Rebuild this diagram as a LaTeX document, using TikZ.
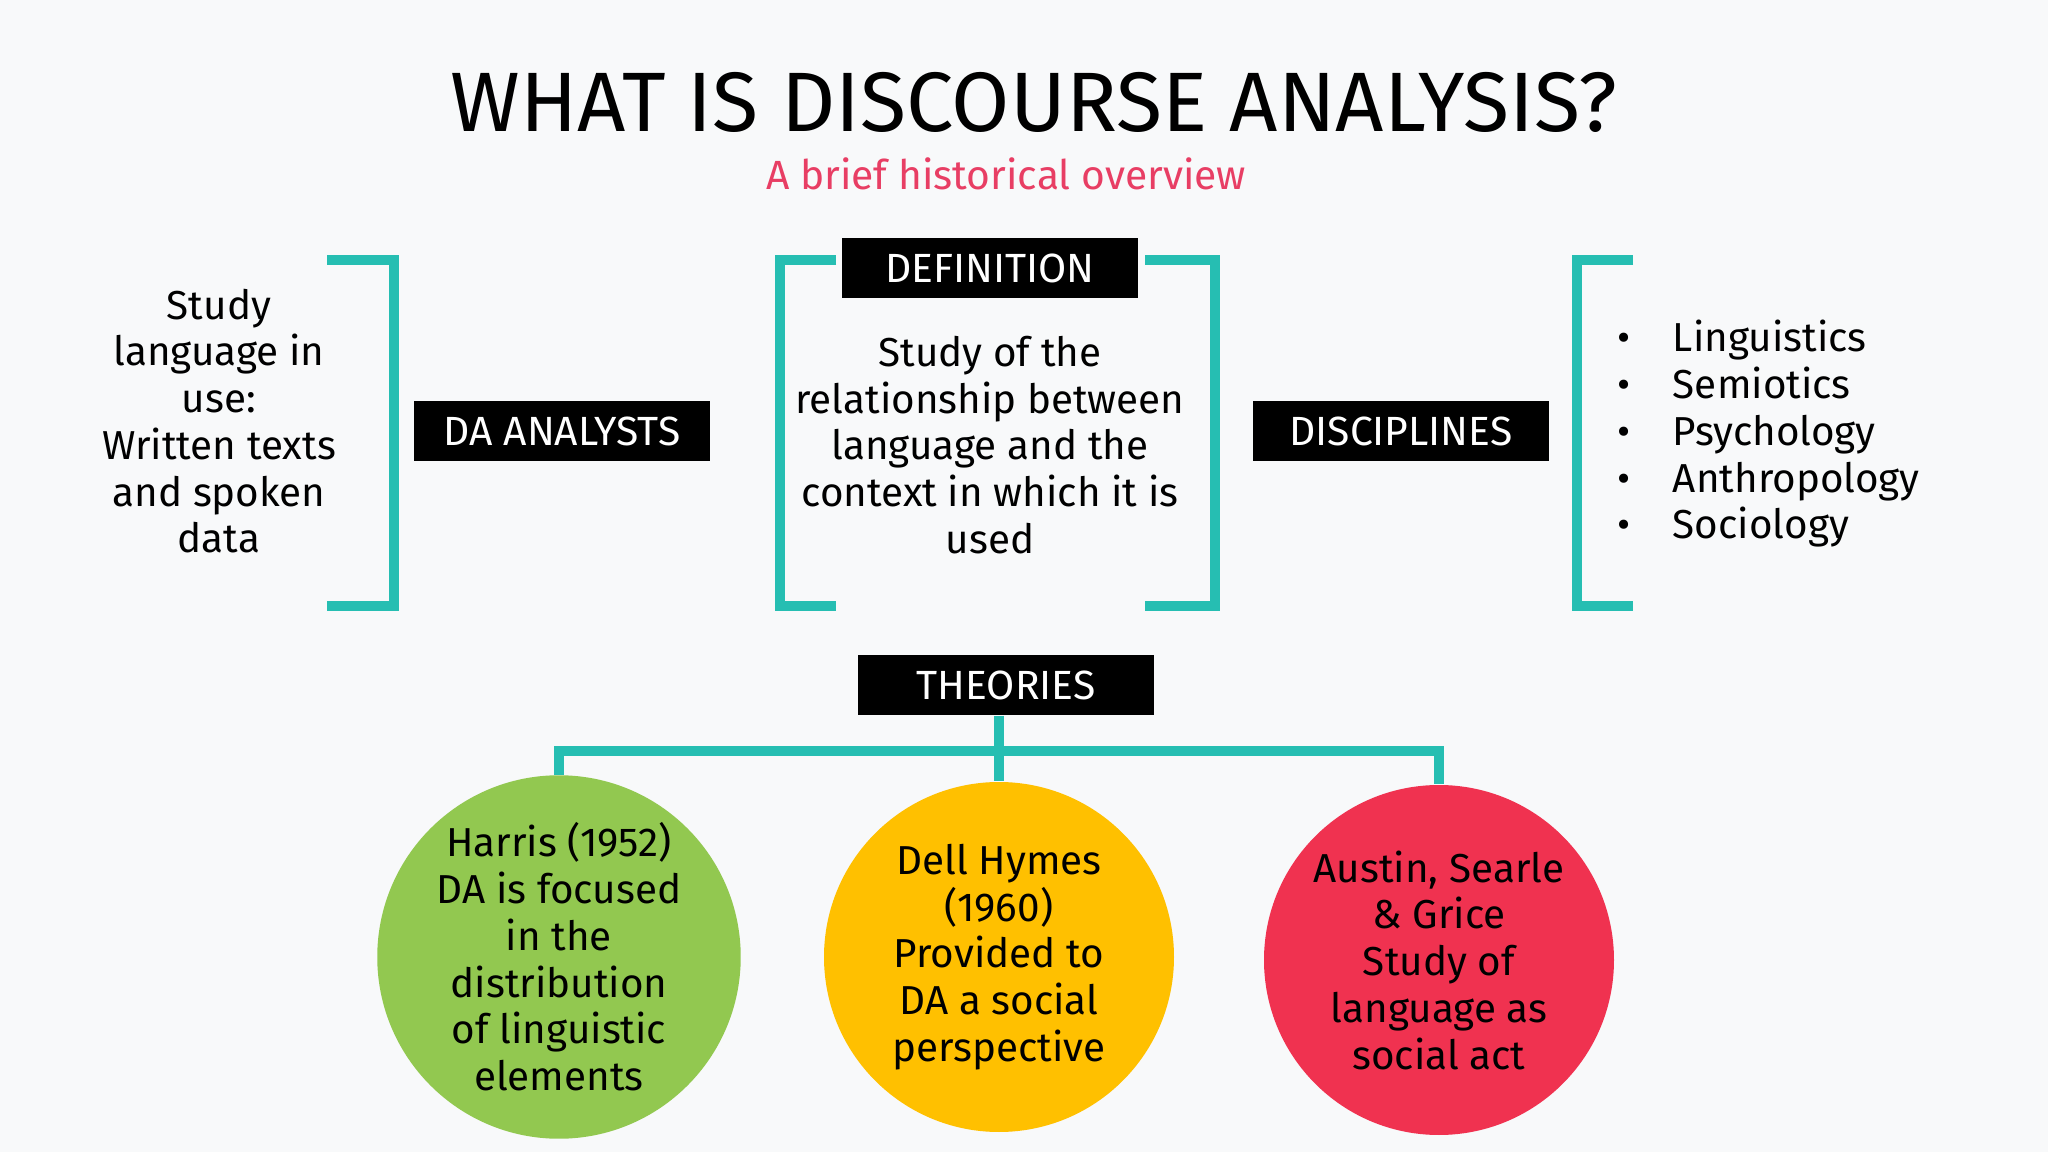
\documentclass[tikz,border=0pt]{standalone}
\usepackage{fontspec}
\setmainfont{Fira Sans}
\definecolor{teal1}{RGB}{38,190,178}
\definecolor{pinkred}{RGB}{232,62,100}
\definecolor{leaf}{RGB}{146,200,80}
\definecolor{sun}{RGB}{255,192,0}
\definecolor{rose}{RGB}{240,50,80}
\definecolor{bg}{RGB}{248,249,250}
\begin{document}
\begin{tikzpicture}
    \tikzset{label/.style={fill=black, text=white, minimum width=2.96cm, minimum height=0.6cm,
        inner sep=0pt, font=\fontsize{11.6}{14}\selectfont},
      body/.style={align=center, font=\fontsize{11.5}{13.3}\selectfont},
      brace/.style={teal1, line width=2.6pt},
      bubble/.style={circle, minimum size=3.5cm, inner sep=0pt, align=center,
        font=\fontsize{11.5}{13.3}\selectfont}}
    \fill[bg] (0,0) rectangle (20.48,-11.52);
    \useasboundingbox (0,0) rectangle (20.48,-11.52);
    \node (title) at (10.34,-1.02) {\fontsize{24}{28}\selectfont WHAT IS DISCOURSE ANALYSIS?};
    \node[text=pinkred] (sub) at (10.06,-1.74) {\fontsize{11.6}{14}\selectfont A brief historical overview};
    % label boxes
    \node[label] (analysts) at (5.62,-4.31) {DA ANALYSTS};
    \node[label] (def) at (9.90,-2.68) {DEFINITION};
    \node[label] (disc) at (14.01,-4.31) {DISCIPLINES};
    \node[label] (theo) at (10.06,-6.85) {THEORIES};
    % brackets
    \draw[brace] (3.27,-2.60) -- (3.94,-2.60) -- (3.94,-6.06) -- (3.27,-6.06);
    \draw[brace] (8.36,-2.60) -- (7.80,-2.60) -- (7.80,-6.06) -- (8.36,-6.06);
    \draw[brace] (11.45,-2.60) -- (12.15,-2.60) -- (12.15,-6.06) -- (11.45,-6.06);
    \draw[brace] (16.33,-2.60) -- (15.77,-2.60) -- (15.77,-6.06) -- (16.33,-6.06);
    % texts
    \node[body] (use) at (2.19,-4.21) {Study\\language in\\use:\\Written texts\\and spoken\\data};
    \node[body] (deftext) at (9.90,-4.45) {Study of the\\relationship between\\language and the\\context in which it is\\used};
    \node[body, align=left, anchor=west] (list) at (16.05,-4.34) {%
      •\hspace{1.05em}Linguistics\\•\hspace{1.05em}Semiotics\\•\hspace{1.05em}Psychology\\
      •\hspace{1.05em}Anthropology\\•\hspace{1.05em}Sociology};
    % theories
    \node[bubble, fill=leaf] (harris) at (5.59,-9.57) {Harris (1952)\\DA is focused\\in the\\distribution\\of linguistic\\elements};
    \node[bubble, fill=sun] (hymes) at (9.99,-9.57) {Dell Hymes\\(1960)\\Provided to\\DA a social\\perspective};
    \node[bubble, fill=rose] (austin) at (14.39,-9.60) {Austin, Searle\\\& Grice\\Study of\\language as\\social act};
    \coordinate (fork) at (9.99,-7.51);
    \draw[brace] (theo.south -| fork) -- (fork);
    \draw[brace] (harris.north) -- (harris.north |- fork) -- (austin.north |- fork) -- (austin.north);
    \draw[brace] (fork) -- (hymes.north);
\end{tikzpicture}
\end{document}
